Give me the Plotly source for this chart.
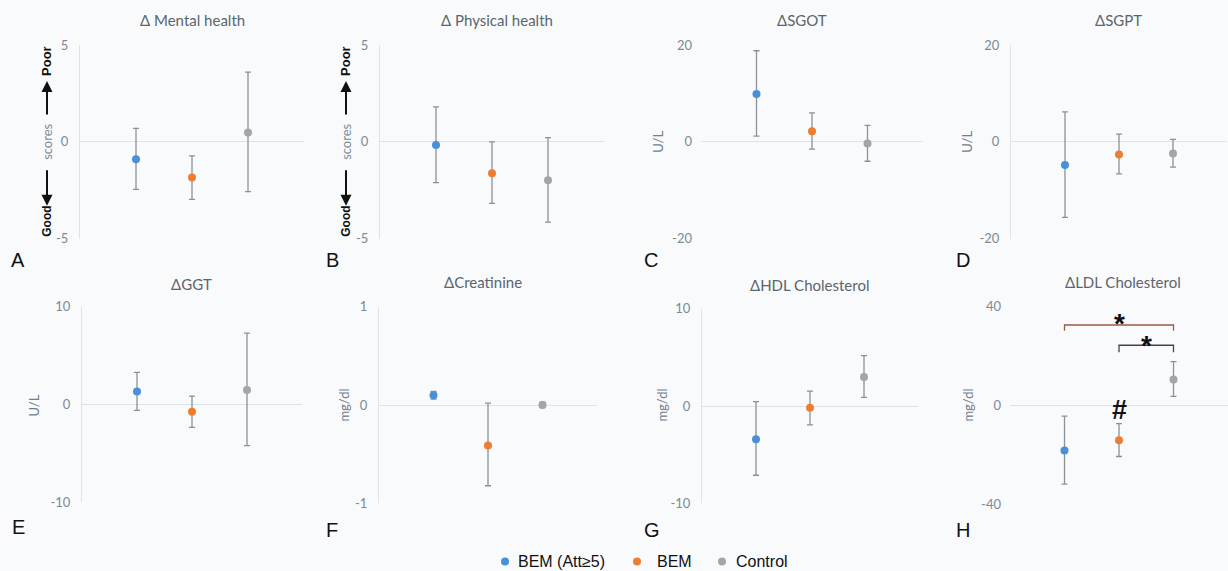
import plotly.graph_objects as go

W, H = 1228, 571

panels = ["Δ Mental health", "Δ Physical health", "ΔSGOT", "ΔSGPT",
          "ΔGGT", "ΔCreatinine", "ΔHDL Cholesterol", "ΔLDL Cholesterol"]
letters = ["A", "B", "C", "D", "E", "F", "G", "H"]
units = [None, None, "U/L", "U/L", "U/L", "mg/dl", "mg/dl", "mg/dl"]
y_limits = [5, 5, 20, 20, 10, 1, 10, 40]

groups = ["BEM (Att≥5)", "BEM", "Control"]
group_pos = [1, 2, 3]
colors = ["#4A90D9", "#ED7D31", "#A5A5A5"]

bem_att_mean = [-0.9, -0.16, 9.9, -4.8, 1.34, 0.10, -3.4, -18.2]
bem_att_hi = [0.7, 1.8, 18.8, 6.2, 3.3, 0.14, 0.45, -4.3]
bem_att_lo = [-2.45, -2.1, 1.2, -15.6, -0.6, 0.06, -7.1, -31.8]

bem_mean = [-1.84, -1.62, 2.2, -2.6, -0.72, -0.41, -0.17, -14.0]
bem_hi = [-0.72, 0.0, 6.0, 1.6, 0.86, 0.02, 1.54, -7.3]
bem_lo = [-2.97, -3.17, -1.5, -6.6, -2.33, -0.82, -1.92, -20.6]

ctrl_mean = [0.48, -1.98, -0.34, -2.4, 1.5, 0.0, 2.98, 10.6]
ctrl_hi = [3.6, 0.22, 3.4, 0.5, 7.3, 0.03, 5.17, 17.8]
ctrl_lo = [-2.57, -4.14, -4.0, -5.2, -4.2, -0.025, 0.89, 3.7]

# significance brackets in panel H (y levels in mg/dl)
bracket_outer = [1, 3, 30.3, 32.6]
bracket_inner = [2, 3, 21.6, 24.4]
star_outer_y = 35.7
star_inner_y = 26.6
hash_y = -1.9

means = [bem_att_mean, bem_mean, ctrl_mean]
his = [bem_att_hi, bem_hi, ctrl_hi]
los = [bem_att_lo, bem_lo, ctrl_lo]

# layout in pixels: (x0, x1, ytop, ybottom)
boxes = [(80, 304, 44, 238), (380, 604, 44, 238), (701, 923, 44, 238), (1011, 1227, 44, 238),
         (82, 302, 306, 502), (379, 597, 306, 503), (702, 918, 308, 503), (1010, 1228, 306, 504)]
show_vline = [True, True, False, True, True, True, True, False]
title_pos = [(193, 19), (497, 19), (802, 19), (1118, 19), (191, 283), (483, 281), (809, 284), (1123, 281)]
letter_pos = [(18, 259), (332, 259), (651, 259), (963, 259), (18, 527), (332, 530), (652, 530), (963, 530)]
unit_pos = [None, None, (658, 141), (967, 141), (34, 405), (344, 405), (662, 405), (968, 405)]
legend_dot_x = [505, 637, 722]
legend_text_x = [516, 655, 734]
legend_y = 561

def fx(px):
    return px / W

# vertical placement calibrated against the rendered page
Y_OFF, Y_SCALE = 7.0, 0.973

def fy(py):
    return 1 - ((py - Y_OFF) / Y_SCALE) / H

fig = go.Figure()
GRID = "#dbe4ea"
TICK = "#7d8a94"
FONT = "Lato"
NARROW = "Liberation Sans Narrow, Arial Narrow, Liberation Sans"

for i in range(8):
    ax = "" if i == 0 else str(i + 1)
    for g in range(3):
        m = means[g][i]
        fig.add_trace(go.Scatter(
            x=[group_pos[g]], y=[m], mode="markers",
            marker=dict(color=colors[g], size=8),
            error_y=dict(type="data", symmetric=False,
                         array=[his[g][i] - m], arrayminus=[m - los[g][i]],
                         color="#8a9298", thickness=1.3, width=3),
            name=groups[g], legendgroup=groups[g], showlegend=False,
            xaxis="x" + ax, yaxis="y" + ax))
    x0, x1, yt, yb = boxes[i]
    lim = y_limits[i]
    fig.layout["xaxis" + ax] = dict(domain=[fx(x0), fx(x1)], range=[0, 4], anchor="y" + ax,
                                    showgrid=False, zeroline=False, showticklabels=False,
                                    showline=False, fixedrange=True)
    fig.layout["yaxis" + ax] = dict(domain=[fy(yb), fy(yt)], range=[-lim, lim], anchor="x" + ax,
                                    tickvals=[-lim, 0, lim], ticktext=[str(-lim), "0", str(lim)],
                                    showgrid=True, gridcolor=GRID, gridwidth=1,
                                    zeroline=True, zerolinecolor=GRID, zerolinewidth=1,
                                    showline=show_vline[i], linecolor=GRID, linewidth=1,
                                    ticks="", ticklabelstandoff=8,
                                    tickfont=dict(family=FONT, size=13, color=TICK),
                                    fixedrange=True)

annotations = []
for i in range(8):
    tx, ty = title_pos[i]
    annotations.append(dict(x=fx(tx), y=fy(ty), xref="paper", yref="paper", text=panels[i],
                            showarrow=False, font=dict(family=FONT, size=15, color="#5a656d"),
                            xanchor="center", yanchor="middle"))
    lx, ly = letter_pos[i]
    annotations.append(dict(x=fx(lx), y=fy(ly), xref="paper", yref="paper", text=letters[i],
                            showarrow=False, font=dict(family="Liberation Sans, Arial", size=20, color="#111111"),
                            xanchor="center", yanchor="middle"))
    if unit_pos[i]:
        ux, uy = unit_pos[i]
        annotations.append(dict(x=fx(ux), y=fy(uy), xref="paper", yref="paper", text=units[i],
                                showarrow=False, textangle=-90,
                                font=dict(family=FONT, size=13, color="#6f8090"),
                                xanchor="center", yanchor="middle"))

# "Good <- scores -> Poor" labels for A and B
for sx in (47, 346):
    annotations.append(dict(x=fx(sx), y=fy(60), xref="paper", yref="paper", text="<b>Poor</b>",
                            showarrow=False, textangle=-90, xanchor="center", yanchor="middle",
                            font=dict(family=NARROW, size=13, color="#111111")))
    annotations.append(dict(x=fx(sx), y=fy(141), xref="paper", yref="paper", text="scores",
                            showarrow=False, textangle=-90, xanchor="center", yanchor="middle",
                            font=dict(family=FONT, size=13, color="#7d8a94")))
    annotations.append(dict(x=fx(sx), y=fy(221), xref="paper", yref="paper", text="<b>Good</b>",
                            showarrow=False, textangle=-90, xanchor="center", yanchor="middle",
                            font=dict(family=NARROW, size=12, color="#111111")))
    # up arrow
    annotations.append(dict(x=fx(sx), y=fy(80), xref="paper", yref="paper", text="",
                            showarrow=True, ax=0, ay=35, arrowhead=2, arrowsize=1.1,
                            arrowwidth=2, arrowcolor="#111111", standoff=0))
    # down arrow
    annotations.append(dict(x=fx(sx), y=fy(205), xref="paper", yref="paper", text="",
                            showarrow=True, ax=0, ay=-37, arrowhead=2, arrowsize=1.1,
                            arrowwidth=2, arrowcolor="#111111", standoff=0))

# significance marks in H
annotations.append(dict(x=2, y=star_outer_y, xref="x8", yref="y8", text="<b>*</b>", showarrow=False,
                        font=dict(family="Liberation Sans, Arial", size=28, color="#111111"),
                        yanchor="middle", yshift=-6))
annotations.append(dict(x=2.5, y=star_inner_y, xref="x8", yref="y8", text="<b>*</b>", showarrow=False,
                        font=dict(family="Liberation Sans, Arial", size=28, color="#111111"),
                        yanchor="middle", yshift=-6))
annotations.append(dict(x=2, y=hash_y, xref="x8", yref="y8", text="<b>#</b>", showarrow=False,
                        font=dict(family="Liberation Sans, Arial", size=27, color="#111111"),
                        yanchor="middle"))

shapes = []
for (xa, xb, ylo, yhi), col in ((bracket_outer, "#9a5a48"), (bracket_inner, "#3c4652")):
    shapes.append(dict(type="path", xref="x8", yref="y8",
                       path=f"M {xa},{ylo} L {xa},{yhi} L {xb},{yhi} L {xb},{ylo}",
                       line=dict(color=col, width=1.3)))

# legend (drawn as dots + labels)
for g in range(3):
    shapes.append(dict(type="circle", xref="paper", yref="paper",
                       xsizemode="pixel", ysizemode="pixel",
                       xanchor=fx(legend_dot_x[g]), yanchor=fy(legend_y),
                       x0=-4, x1=4, y0=-4, y1=4,
                       fillcolor=colors[g], line=dict(width=0)))
    annotations.append(dict(x=fx(legend_text_x[g]), y=fy(legend_y), xref="paper", yref="paper",
                            text=groups[g], showarrow=False, xanchor="left", yanchor="middle",
                            font=dict(family="Liberation Sans, Arial", size=16, color="#111111")))

fig.update_layout(
    width=W, height=H, margin=dict(l=0, r=0, t=0, b=0), autosize=False,
    paper_bgcolor="#f9fafc", plot_bgcolor="#f9fafc",
    annotations=annotations, shapes=shapes,
    showlegend=False,
)

css_js = ("var s=document.createElement('style');"
          "s.textContent='html,body{margin:0!important;padding:0!important;overflow:hidden!important;height:571px!important;}';"
          "document.head.appendChild(s);")

fig.write_html("out.html", config={"responsive": False, "displayModeBar": False},
               default_width="1228px", default_height="571px",
               post_script=css_js)
